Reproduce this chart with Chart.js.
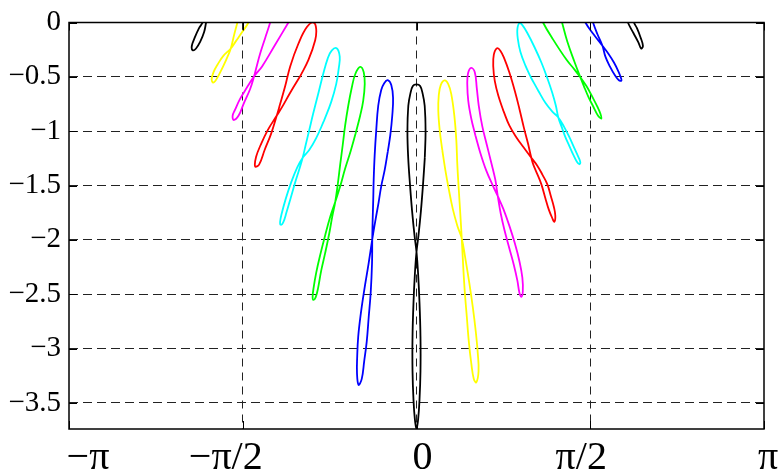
<!DOCTYPE html>
<html><head><meta charset="utf-8">
<script src="https://cdn.jsdelivr.net/npm/chart.js@4.4.1/dist/chart.umd.min.js"></script>
<style>html,body{margin:0;padding:0;background:#fff;}#wrap{width:783px;height:475px;}</style>
</head><body><div id="wrap"><canvas id="c" width="783" height="475"></canvas></div>
<script>
// tick values and labels
const xTickValues = [-Math.PI, -Math.PI / 2, 0, Math.PI / 2, Math.PI];
const xTickLabels = ['\u2212\u03c0', '\u2212\u03c0/2', '0', '\u03c0/2', '\u03c0'];
const yTickValues = [0, -0.5, -1, -1.5, -2, -2.5, -3, -3.5];
const yTickLabels = ['0', '\u22120.5', '\u22121', '\u22121.5', '\u22122', '\u22122.5', '\u22123', '\u22123.5'];
const xRange = [-Math.PI, Math.PI];
const yRange = [-3.74, 0];

// closed curves, left to right ([x, y] pairs)
const curveL7 = [[-1.875,0.111],[-1.902,0],[-1.920,-0.088],[-1.956,-0.178],[-1.993,-0.239],[-2.024,-0.255],[-2.031,-0.214],[-2.006,-0.142],[-1.966,-0.052],[-1.934,0],[-1.911,0.093],[-1.857,0.184],[-1.875,0.111]];
const curveL6 = [[-1.590,0.111],[-1.619,0],[-1.649,-0.115],[-1.679,-0.239],[-1.708,-0.314],[-1.748,-0.404],[-1.789,-0.486],[-1.821,-0.540],[-1.839,-0.553],[-1.852,-0.522],[-1.834,-0.454],[-1.798,-0.386],[-1.748,-0.309],[-1.679,-0.239],[-1.631,-0.169],[-1.576,-0.088],[-1.519,0],[-1.486,0.093],[-1.540,0.184],[-1.590,0.111]];
const curveL5 = [[-1.296,0.111],[-1.323,0],[-1.368,-0.142],[-1.414,-0.287],[-1.445,-0.404],[-1.468,-0.495],[-1.504,-0.612],[-1.563,-0.748],[-1.608,-0.856],[-1.653,-0.897],[-1.662,-0.856],[-1.640,-0.802],[-1.595,-0.703],[-1.536,-0.603],[-1.468,-0.495],[-1.396,-0.404],[-1.278,-0.205],[-1.158,0],[-1.106,0.093],[-1.206,0.211],[-1.296,0.111]];
const curveL4 = [[-1.052,-0.495],[-1.142,-0.646],[-1.217,-0.781],[-1.263,-0.856],[-1.346,-0.992],[-1.409,-1.127],[-1.450,-1.236],[-1.459,-1.324],[-1.423,-1.308],[-1.373,-1.173],[-1.314,-1.022],[-1.263,-0.856],[-1.233,-0.750],[-1.187,-0.585],[-1.142,-0.404],[-1.067,-0.193],[-0.991,-0.042],[-0.931,0],[-0.907,-0.058],[-0.916,-0.163],[-0.977,-0.344],[-1.052,-0.495]];
const curveL3 = [[-0.835,-0.901],[-0.907,-1.064],[-0.970,-1.173],[-1.029,-1.245],[-1.079,-1.335],[-1.133,-1.471],[-1.183,-1.625],[-1.219,-1.760],[-1.233,-1.833],[-1.228,-1.860],[-1.206,-1.842],[-1.174,-1.742],[-1.138,-1.616],[-1.097,-1.471],[-1.061,-1.354],[-1.029,-1.245],[-1.002,-1.127],[-0.970,-0.992],[-0.934,-0.838],[-0.889,-0.657],[-0.844,-0.476],[-0.803,-0.332],[-0.767,-0.259],[-0.722,-0.237],[-0.694,-0.314],[-0.703,-0.422],[-0.726,-0.567],[-0.771,-0.730],[-0.835,-0.901]];
const curveL2 = [[-0.550,-1.019],[-0.595,-1.182],[-0.645,-1.344],[-0.690,-1.507],[-0.735,-1.652],[-0.780,-1.788],[-0.826,-1.959],[-0.871,-2.140],[-0.907,-2.303],[-0.930,-2.439],[-0.939,-2.520],[-0.934,-2.552],[-0.912,-2.529],[-0.889,-2.439],[-0.862,-2.285],[-0.826,-2.122],[-0.789,-1.941],[-0.762,-1.788],[-0.735,-1.652],[-0.712,-1.489],[-0.690,-1.308],[-0.667,-1.127],[-0.645,-0.947],[-0.617,-0.766],[-0.586,-0.603],[-0.554,-0.476],[-0.509,-0.409],[-0.477,-0.458],[-0.468,-0.567],[-0.482,-0.721],[-0.509,-0.856],[-0.550,-1.019]];
const curveL1 = [[-0.260,-1.191],[-0.287,-1.354],[-0.319,-1.507],[-0.342,-1.652],[-0.369,-1.806],[-0.400,-1.995],[-0.432,-2.212],[-0.473,-2.466],[-0.504,-2.683],[-0.527,-2.891],[-0.536,-3.071],[-0.538,-3.225],[-0.524,-3.334],[-0.495,-3.279],[-0.473,-3.117],[-0.450,-2.936],[-0.432,-2.710],[-0.414,-2.484],[-0.402,-2.212],[-0.400,-1.995],[-0.396,-1.806],[-0.391,-1.625],[-0.387,-1.444],[-0.378,-1.218],[-0.364,-0.992],[-0.346,-0.766],[-0.319,-0.621],[-0.292,-0.558],[-0.260,-0.531],[-0.228,-0.576],[-0.212,-0.693],[-0.219,-0.856],[-0.237,-1.037],[-0.260,-1.191]];
const curveC0 = [[0.075,-1.245],[0.059,-1.489],[0.040,-1.733],[0.018,-1.959],[0,-2.11],[-0.014,-2.303],[-0.027,-2.574],[-0.036,-2.891],[-0.036,-3.207],[-0.027,-3.478],[-0.014,-3.659],[0,-3.74],[0.014,-3.659],[0.027,-3.478],[0.036,-3.207],[0.036,-2.891],[0.027,-2.574],[0.014,-2.303],[0,-2.11],[-0.018,-1.959],[-0.040,-1.733],[-0.059,-1.489],[-0.075,-1.245],[-0.082,-1.001],[-0.074,-0.766],[-0.056,-0.657],[-0.033,-0.585],[0,-0.570],[0.033,-0.585],[0.056,-0.657],[0.074,-0.766],[0.082,-1.001],[0.075,-1.245]];
const curveR1 = [[0.233,-1.173],[0.260,-1.354],[0.292,-1.534],[0.328,-1.715],[0.369,-1.869],[0.409,-1.986],[0.441,-2.167],[0.477,-2.393],[0.509,-2.619],[0.536,-2.845],[0.554,-3.044],[0.561,-3.207],[0.541,-3.311],[0.518,-3.279],[0.495,-3.135],[0.473,-2.936],[0.455,-2.710],[0.437,-2.484],[0.423,-2.258],[0.409,-1.986],[0.396,-1.760],[0.382,-1.534],[0.369,-1.308],[0.360,-1.082],[0.342,-0.856],[0.314,-0.657],[0.287,-0.567],[0.254,-0.533],[0.219,-0.576],[0.201,-0.675],[0.197,-0.811],[0.210,-0.992],[0.233,-1.173]];
const curveR2 = [[0.532,-1.037],[0.577,-1.200],[0.631,-1.363],[0.685,-1.489],[0.735,-1.598],[0.785,-1.715],[0.839,-1.869],[0.889,-2.032],[0.930,-2.194],[0.957,-2.348],[0.961,-2.475],[0.948,-2.524],[0.930,-2.484],[0.912,-2.375],[0.880,-2.231],[0.839,-2.077],[0.794,-1.905],[0.762,-1.760],[0.735,-1.598],[0.712,-1.444],[0.676,-1.290],[0.636,-1.127],[0.595,-0.956],[0.563,-0.766],[0.545,-0.603],[0.527,-0.458],[0.495,-0.418],[0.466,-0.467],[0.459,-0.567],[0.468,-0.721],[0.495,-0.883],[0.532,-1.037]];
const curveR3 = [[0.785,-0.811],[0.839,-0.947],[0.902,-1.055],[0.966,-1.146],[1.038,-1.245],[1.092,-1.317],[1.138,-1.399],[1.183,-1.489],[1.215,-1.598],[1.242,-1.697],[1.255,-1.778],[1.246,-1.833],[1.228,-1.801],[1.197,-1.724],[1.165,-1.616],[1.129,-1.489],[1.088,-1.385],[1.056,-1.308],[1.038,-1.245],[1.007,-1.109],[0.970,-0.965],[0.930,-0.793],[0.889,-0.630],[0.839,-0.458],[0.794,-0.332],[0.758,-0.259],[0.728,-0.237],[0.699,-0.296],[0.694,-0.404],[0.708,-0.540],[0.740,-0.675],[0.785,-0.811]];
const curveR4 = [[1.038,-0.513],[1.102,-0.630],[1.165,-0.739],[1.228,-0.820],[1.282,-0.874],[1.332,-0.956],[1.382,-1.055],[1.427,-1.155],[1.463,-1.236],[1.481,-1.286],[1.472,-1.304],[1.450,-1.281],[1.418,-1.218],[1.382,-1.137],[1.346,-1.055],[1.314,-0.965],[1.282,-0.874],[1.260,-0.766],[1.228,-0.648],[1.183,-0.513],[1.129,-0.368],[1.065,-0.223],[1.002,-0.097],[0.957,-0.024],[0.930,-0.006],[0.912,-0.061],[0.916,-0.151],[0.939,-0.269],[0.984,-0.395],[1.038,-0.513]];
const curveR5 = [[1.102,0.111],[1.144,0],[1.237,-0.160],[1.355,-0.341],[1.427,-0.431],[1.481,-0.504],[1.536,-0.585],[1.590,-0.684],[1.635,-0.775],[1.662,-0.838],[1.671,-0.883],[1.640,-0.856],[1.599,-0.775],[1.554,-0.684],[1.513,-0.585],[1.481,-0.504],[1.427,-0.359],[1.364,-0.178],[1.316,0],[1.292,0.093],[1.192,0.184],[1.102,0.111]];
const curveR6 = [[1.481,0.111],[1.527,0],[1.599,-0.106],[1.681,-0.214],[1.735,-0.287],[1.785,-0.368],[1.825,-0.449],[1.848,-0.508],[1.852,-0.535],[1.830,-0.531],[1.794,-0.486],[1.748,-0.404],[1.708,-0.314],[1.681,-0.214],[1.635,-0.106],[1.596,0],[1.572,0.093],[1.518,0.184],[1.481,0.111]];
const curveR7 = [[1.871,0.111],[1.911,0],[1.961,-0.097],[2.006,-0.183],[2.031,-0.239],[2.047,-0.214],[2.024,-0.133],[1.993,-0.052],[1.966,0],[1.943,0.093],[1.898,0.184],[1.871,0.111]];

const seriesNames = ['k = -7','k = -6','k = -5','k = -4','k = -3','k = -2','k = -1','k = 0','k = 1','k = 2','k = 3','k = 4','k = 5','k = 6','k = 7'];
const seriesCurves = [curveL7, curveL6, curveL5, curveL4, curveL3, curveL2, curveL1, curveC0, curveR1, curveR2, curveR3, curveR4, curveR5, curveR6, curveR7];
const seriesColors = ['#000000','#ffff00','#ff00ff','#ff0000','#00ffff','#00ff00','#0000ff','#000000','#ffff00','#ff00ff','#ff0000','#00ffff','#00ff00','#0000ff','#000000'];

// style: horizontal nudges of the x tick labels, as placed in the original
const xLabelShift = [19, -17, 6, -9, 4];

const datasets = seriesCurves.map((c, i) => ({
  label: seriesNames[i],
  data: c.map(p => ({x: p[0], y: p[1]})),
  borderColor: seriesColors[i],
  backgroundColor: seriesColors[i],
  borderWidth: 1.8,
  pointRadius: 0,
  pointHoverRadius: 0,
  fill: false,
  tension: 0.4,
  clip: 0
}));

const framePlugin = {
  id: 'frame',
  afterDatasetsDraw(chart) {
    const {ctx, chartArea: a} = chart;
    const xs = chart.scales.x, ys = chart.scales.y;
    ctx.save();
    ctx.setLineDash([]);
    ctx.strokeStyle = '#000';
    // inner tick marks
    ctx.lineWidth = 1;
    ctx.beginPath();
    const tl = 8;
    yTickValues.forEach(v => {
      const y = Math.round(ys.getPixelForValue(v)) + 0.5;
      ctx.moveTo(a.left, y); ctx.lineTo(a.left + tl, y);
      ctx.moveTo(a.right, y); ctx.lineTo(a.right - tl, y);
    });
    xTickValues.forEach(v => {
      const x = Math.round(xs.getPixelForValue(v)) + 0.5;
      ctx.moveTo(x, a.bottom); ctx.lineTo(x, a.bottom - tl);
      ctx.moveTo(x, a.top); ctx.lineTo(x, a.top + tl);
    });
    ctx.stroke();
    // frame
    ctx.lineWidth = 1.5;
    ctx.strokeRect(a.left, a.top, a.right - a.left, a.bottom - a.top);
    ctx.restore();
  },
  afterDraw(chart) {
    const xs = chart.scales.x, ctx = chart.ctx;
    ctx.save();
    ctx.fillStyle = '#000';
    ctx.font = '40px "Liberation Serif"';
    ctx.textAlign = 'center';
    ctx.textBaseline = 'alphabetic';
    xTickValues.forEach((v, i) => {
      ctx.fillText(xTickLabels[i], xs.getPixelForValue(v) + xLabelShift[i], chart.chartArea.bottom + 39.5);
    });
    ctx.restore();
  }
};

new Chart(document.getElementById('c'), {
  type: 'line',
  data: { datasets },
  options: {
    responsive: false,
    animation: false,
    devicePixelRatio: 1,
    layout: { padding: { top: 15, right: 19, left: 0, bottom: 0 } },
    elements: { line: { capBezierPoints: false } },
    plugins: { legend: { display: false }, tooltip: { enabled: false } },
    scales: {
      x: {
        type: 'linear',
        min: xRange[0], max: xRange[1],
        afterBuildTicks: s => { s.ticks = xTickValues.map(v => ({value: v})); },
        afterFit: s => { s.height = 46; },
        ticks: { display: false, autoSkip: false, maxRotation: 0 },
        grid: {
          drawTicks: false,
          lineWidth: 1,
          color: ctx => (ctx.index === 0 || ctx.index === xTickValues.length - 1) ? 'rgba(0,0,0,0)' : '#222'
        },
        border: { display: false, dash: [8, 6] }
      },
      y: {
        type: 'linear',
        min: yRange[0], max: yRange[1],
        afterBuildTicks: s => { s.ticks = yTickValues.map(v => ({value: v})); },
        afterFit: s => { s.width = 69; },
        ticks: {
          autoSkip: false, padding: 8,
          color: '#000',
          font: { family: 'Liberation Serif', size: 29, lineHeight: 1 },
          callback: (v, i) => yTickLabels[i]
        },
        grid: {
          drawTicks: false,
          lineWidth: 1,
          color: ctx => (ctx.index === 0) ? 'rgba(0,0,0,0)' : '#222'
        },
        border: { display: false, dash: [9, 5] }
      }
    }
  },
  plugins: [framePlugin]
});
</script></body></html>
